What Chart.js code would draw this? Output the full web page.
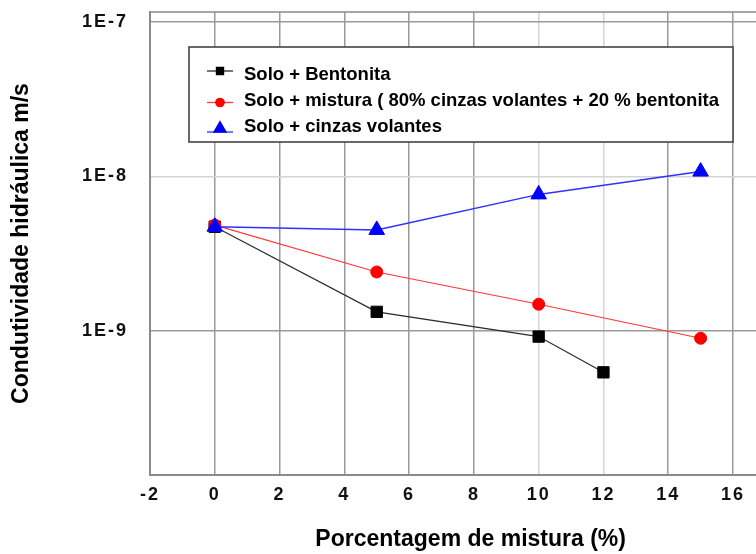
<!DOCTYPE html>
<html>
<head>
<meta charset="utf-8">
<script src="https://cdn.jsdelivr.net/npm/chart.js@4/dist/chart.umd.min.js"></script>
<style>
  html, body { margin: 0; padding: 0; background: #ffffff; overflow: hidden; }
  #wrap { width: 812px; height: 554px; }
</style>
</head>
<body>
<div id="wrap"><canvas id="chart" width="812" height="554"></canvas></div>
<script>
// Hydraulic conductivity (m/s) versus additive content (%)
const seriesLabels = [
  'Solo + Bentonita',
  'Solo + mistura ( 80% cinzas volantes + 20 % bentonita',
  'Solo + cinzas volantes'
];
const xBentonita = [0, 5, 10, 12];
const kBentonita = [4.73e-9, 1.33e-9, 9.2e-10, 5.4e-10];
const xMistura = [0, 5, 10, 15];
const kMistura = [4.85e-9, 2.41e-9, 1.49e-9, 8.97e-10];
const xCinzas = [0, 5, 10, 15];
const kCinzas = [4.73e-9, 4.51e-9, 7.66e-9, 1.076e-8];

const yTickValues = [1e-9, 1e-8, 1e-7];
const yTickLabels = ['1E-9', '1E-8', '1E-7'];

const xTitle = 'Porcentagem de mistura (%)';
const yTitle = 'Condutividade hidráulica m/s';

const FONT = '"Liberation Sans", Arial, Helvetica, sans-serif';
Chart.defaults.font.family = FONT;
Chart.defaults.color = '#111111';

function toPoints(xs, ys) {
  return xs.map((x, i) => ({ x: x, y: ys[i] }));
}

// Frame line along the top of the plot area
const topFrame = {
  id: 'topFrame',
  beforeDatasetsDraw(chart) {
    const { ctx, chartArea } = chart;
    ctx.save();
    ctx.strokeStyle = '#8a8a8a';
    ctx.lineWidth = 1.5;
    ctx.beginPath();
    ctx.moveTo(chartArea.left, chartArea.top);
    ctx.lineTo(chartArea.right, chartArea.top);
    ctx.stroke();
    ctx.restore();
  },
  // tick labels (drawn in a later layer) get a little extra tracking
  afterDatasetsDraw(chart) {
    chart.ctx.letterSpacing = '2px';
  }
};

// Boxed legend placed inside the plot area
const boxLegend = {
  id: 'boxLegend',
  afterDraw(chart, args, opts) {
    const { ctx } = chart;
    ctx.letterSpacing = '0px';
    const b = opts.box;
    ctx.save();
    ctx.fillStyle = '#ffffff';
    ctx.fillRect(b.x, b.y, b.w, b.h);
    ctx.strokeStyle = '#444444';
    ctx.lineWidth = 1.6;
    ctx.strokeRect(b.x, b.y, b.w, b.h);
    chart.data.datasets.forEach((ds, i) => {
      const textY = opts.firstRow + i * opts.rowGap;
      const y = opts.markerY[i];
      const r = opts.markerRadius[i];
      const lineY = ds.pointStyle === 'triangle' ? y + r / 2 : y;
      ctx.strokeStyle = ds.borderColor;
      ctx.lineWidth = 1.3;
      ctx.beginPath();
      ctx.moveTo(opts.lineX0, lineY);
      ctx.lineTo(opts.lineX1, lineY);
      ctx.stroke();
      ctx.fillStyle = ds.pointBackgroundColor;
      ctx.strokeStyle = ds.pointBorderColor;
      Chart.helpers.drawPoint(ctx, { pointStyle: ds.pointStyle, radius: r, rotation: 0, borderWidth: 1 },
        (opts.lineX0 + opts.lineX1) / 2, y);
      ctx.fillStyle = '#000000';
      ctx.font = 'bold 18.5px ' + FONT;
      ctx.textBaseline = 'middle';
      ctx.textAlign = 'left';
      ctx.fillText(ds.label, opts.textX, textY);
    });
    ctx.restore();
  }
};

new Chart(document.getElementById('chart'), {
  type: 'line',
  data: {
    datasets: [
      {
        label: seriesLabels[0],
        data: toPoints(xBentonita, kBentonita),
        borderColor: '#2a2a2a',
        borderWidth: 1.2,
        pointStyle: 'rect',
        pointRadius: 8,
        pointBackgroundColor: '#000000',
        pointBorderColor: '#000000',
        pointBorderWidth: 1,
        order: 2
      },
      {
        label: seriesLabels[1],
        data: toPoints(xMistura, kMistura),
        borderColor: '#ff3838',
        borderWidth: 1.2,
        pointStyle: 'circle',
        pointRadius: 6,
        pointBackgroundColor: '#ff0000',
        pointBorderColor: '#ff0000',
        pointBorderWidth: 1,
        order: 1
      },
      {
        label: seriesLabels[2],
        data: toPoints(xCinzas, kCinzas),
        borderColor: '#3030ff',
        borderWidth: 1.5,
        pointStyle: 'triangle',
        pointRadius: 9,
        pointBackgroundColor: '#0000ff',
        pointBorderColor: '#0000ff',
        pointBorderWidth: 1,
        order: 0
      }
    ]
  },
  options: {
    responsive: false,
    devicePixelRatio: 1,
    animation: false,
    events: [],
    layout: { padding: { top: 12, right: 20.7, bottom: 0, left: 0 } },
    plugins: {
      legend: { display: false },
      tooltip: { enabled: false },
      boxLegend: {
        box: { x: 189, y: 47, w: 544, h: 95 },
        firstRow: 74.5,
        rowGap: 26.2,
        markerY: [71, 102.5, 128.5],
        lineX0: 207,
        lineX1: 233,
        textX: 244,
        markerRadius: [5, 4.2, 7]
      }
    },
    scales: {
      x: {
        type: 'linear',
        min: -2,
        max: 17.8,
        afterFit(scale) {
          scale.height = 79;
          scale.paddingLeft = 0;
          scale.paddingRight = 0;
        },
        ticks: {
          stepSize: 2,
          includeBounds: false,
          padding: 9,
          z: 1,
          font: { size: 18, weight: 'bold' },
          color: '#111111',
          maxRotation: 0
        },
        grid: {
          color: (c) => (c.tick && (c.tick.value === 10 || c.tick.value === 12)) ? '#d4d4d4' : '#9a9a9a',
          lineWidth: 1.5,
          drawTicks: false
        },
        border: { display: true, color: '#8a8a8a', width: 2 },
        title: {
          display: true,
          text: xTitle,
          font: { size: 23, weight: 'bold' },
          color: '#000000',
          padding: { top: 0, bottom: 1 }
        }
      },
      y: {
        type: 'logarithmic',
        min: 1.169e-10,
        max: 1.161e-7,
        afterFit(scale) {
          scale.width = 150;
          scale.paddingTop = 0;
          scale.paddingBottom = 0;
        },
        afterBuildTicks(scale) {
          scale.ticks = yTickValues.map(v => ({ value: v }));
        },
        ticks: {
          callback: (value, index) => yTickLabels[index],
          padding: 22,
          z: 1,
          font: { size: 18, weight: 'bold' },
          color: '#111111'
        },
        grid: {
          color: (c) => (c.tick && c.index === 1) ? '#d4d4d4' : '#9a9a9a',
          lineWidth: 1.5,
          drawTicks: false
        },
        border: { display: true, color: '#8a8a8a', width: 2 },
        title: {
          display: true,
          text: yTitle,
          font: { size: 23, weight: 'bold' },
          color: '#000000',
          padding: { top: 8, bottom: 0 }
        }
      }
    }
  },
  plugins: [topFrame, boxLegend]
});
</script>
</body>
</html>
